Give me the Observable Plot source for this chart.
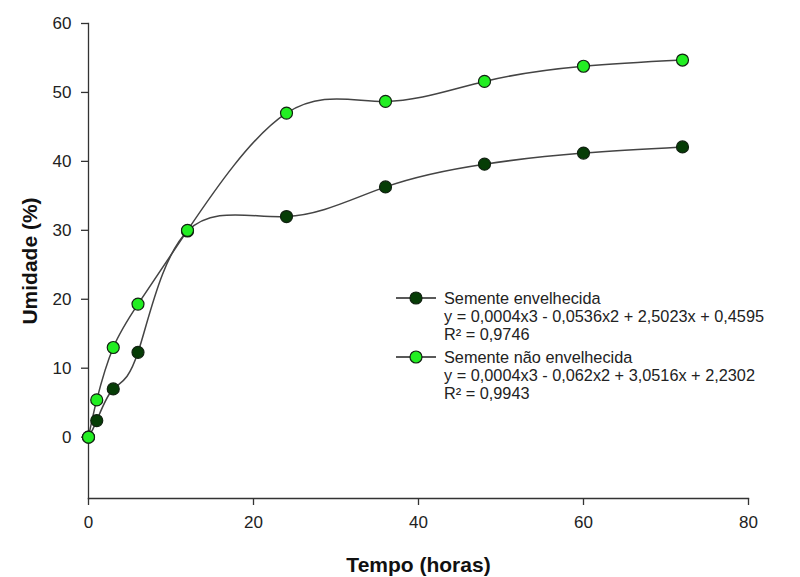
<!DOCTYPE html>
<html><head><meta charset="utf-8">
<script src="https://cdn.jsdelivr.net/npm/d3@7"></script>
<script src="https://cdn.jsdelivr.net/npm/@observablehq/plot@0.6"></script>
<style>
body{margin:0;background:#fff;}
#wrap{position:relative;width:800px;height:577px;font-family:"Liberation Sans",Arial,sans-serif;}
#legend{position:absolute;left:396px;top:289px;font-size:16.3px;line-height:18px;color:#222;}
.entry{display:flex;align-items:flex-start;margin-bottom:5px;}
.entry svg{flex:none;margin-right:8px;}
</style></head><body><div id="wrap"><div id="legend"></div></div>
<script>
const hours = [0, 1, 3, 6, 12, 24, 36, 48, 60, 72];
const envelhecida = [0, 2.4, 7.0, 12.3, 29.9, 32.0, 36.3, 39.6, 41.2, 42.1];
const naoEnvelhecida = [0, 5.4, 13.0, 19.3, 30.0, 47.0, 48.7, 51.6, 53.8, 54.7];
const seriesNames = ["Semente envelhecida", "Semente não envelhecida"];
const equations = ["y = 0,0004x3 - 0,0536x2 + 2,5023x + 0,4595", "y = 0,0004x3 - 0,062x2 + 3,0516x + 2,2302"];
const r2Labels = ["R² = 0,9746", "R² = 0,9943"];
const fills = ["#063d06", "#22ee22"];
const xTicks = [0, 20, 40, 60, 80];
const yTicks = [0, 10, 20, 30, 40, 50, 60];
const xLabel = "Tempo (horas)";
const yLabel = "Umidade (%)";

const data = [
  ...hours.map((h, i) => ({hour: h, value: envelhecida[i], series: seriesNames[0]})),
  ...hours.map((h, i) => ({hour: h, value: naoEnvelhecida[i], series: seriesNames[1]}))
];

const chart = Plot.plot({
  width: 800, height: 577,
  marginLeft: 88, marginRight: 52, marginTop: 23, marginBottom: 79,
  style: {fontFamily: "Liberation Sans, Arial, sans-serif", background: "white", color: "#222"},
  x: {domain: [0, 80], ticks: xTicks},
  y: {domain: [-8.9, 60], ticks: yTicks},
  color: {domain: seriesNames, range: fills},
  marks: [
    Plot.frame({anchor: "left", stroke: "#333", strokeWidth: 1.3}),
    Plot.frame({anchor: "bottom", stroke: "#333", strokeWidth: 1.3}),
    Plot.axisX({ticks: xTicks, tickSize: 7, tickPadding: 10, fontSize: 17, label: null, stroke: "#333", strokeWidth: 1.3}),
    Plot.axisY({ticks: yTicks, tickSize: 7, tickPadding: 10, fontSize: 17, label: null, stroke: "#333", strokeWidth: 1.3}),
    Plot.line(data, {x: "hour", y: "value", z: "series", curve: "natural", stroke: "#444", strokeWidth: 1.5}),
    Plot.dot(data, {x: "hour", y: "value", fill: "series", r: 6, stroke: "#112211", strokeWidth: 1.2}),
    Plot.text([xLabel], {frameAnchor: "bottom", dy: 73, fontSize: 21, fontWeight: "bold", fill: "#111"}),
    Plot.text([yLabel], {frameAnchor: "left", textAnchor: "middle", dx: -58, rotate: -90, fontSize: 21, fontWeight: "bold", fill: "#111"})
  ]
});
document.getElementById("wrap").prepend(chart);

const legend = document.getElementById("legend");
seriesNames.forEach((name, i) => {
  const entry = document.createElement("div");
  entry.className = "entry";
  entry.innerHTML = `<svg width="40" height="18"><line x1="0" x2="40" y1="9" y2="9" stroke="#222" stroke-width="1.5"/><circle cx="20" cy="9" r="6" fill="${fills[i]}" stroke="#112211" stroke-width="1.2"/></svg><div>${name}<br>${equations[i]}<br>${r2Labels[i]}</div>`;
  legend.appendChild(entry);
});
</script>
</body></html>
